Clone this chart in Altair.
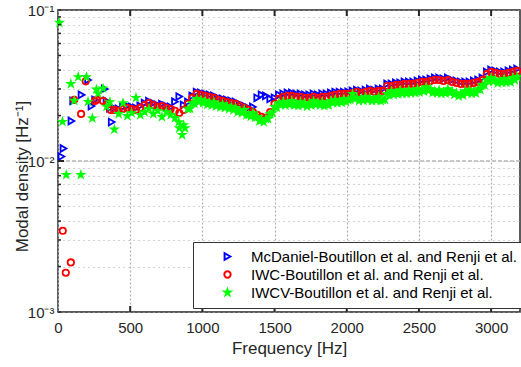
import altair as alt
import pandas as pd

names = [
    "McDaniel-Boutillon et al. and Renji et al.",
    "IWC-Boutillon et al. and Renji et al.",
    "IWCV-Boutillon et al. and Renji et al.",
]

band_freq = [
    390, 420, 450, 480, 510, 540, 570, 600, 630, 660,
    690, 720, 750, 780, 810, 840, 870, 900, 930, 960,
    990, 1020, 1050, 1080, 1110, 1140, 1170, 1200, 1230, 1260,
    1290, 1320, 1350, 1380, 1410, 1440, 1470, 1500, 1530, 1560,
    1590, 1620, 1650, 1680, 1710, 1740, 1770, 1800, 1830, 1860,
    1890, 1920, 1950, 1980, 2010, 2040, 2070, 2100, 2130, 2160,
    2190, 2220, 2250, 2280, 2310, 2340, 2370, 2400, 2430, 2460,
    2490, 2520, 2550, 2580, 2610, 2640, 2670, 2700, 2730, 2760,
    2790, 2820, 2850, 2880, 2910, 2940, 2970, 3000, 3030, 3060,
    3090, 3120, 3150, 3180,
]

mcd_low_freq = [24, 38, 93, 105, 163, 208, 232, 257, 324, 336, 360, 372]
mcd_low = [0.0107, 0.0121, 0.0184, 0.0250, 0.0274, 0.0344, 0.0231, 0.0254, 0.0300, 0.0250, 0.0224, 0.0181]
mcd_band = [
    0.0224, 0.0221, 0.0228, 0.0232, 0.0228, 0.0225, 0.0232, 0.0242, 0.0249, 0.0242,
    0.0235, 0.0238, 0.0232, 0.0228, 0.0247, 0.0267, 0.0235, 0.0246, 0.0270, 0.0286,
    0.0282, 0.0278, 0.0274, 0.0270, 0.0262, 0.0258, 0.0254, 0.0250, 0.0246, 0.0238,
    0.0232, 0.0225, 0.0228, 0.0262, 0.0274, 0.0270, 0.0258, 0.0262, 0.0274, 0.0278,
    0.0282, 0.0282, 0.0278, 0.0278, 0.0274, 0.0274, 0.0278, 0.0274, 0.0278, 0.0278,
    0.0282, 0.0286, 0.0286, 0.0286, 0.0287, 0.0291, 0.0295, 0.0291, 0.0295, 0.0300,
    0.0295, 0.0300, 0.0300, 0.0324, 0.0324, 0.0329, 0.0329, 0.0334, 0.0334, 0.0334,
    0.0339, 0.0344, 0.0344, 0.0350, 0.0355, 0.0355, 0.0350, 0.0355, 0.0344, 0.0339,
    0.0334, 0.0334, 0.0334, 0.0339, 0.0344, 0.0355, 0.0389, 0.0401, 0.0395, 0.0389,
    0.0389, 0.0395, 0.0401, 0.0407,
]

iwc_low_freq = [33, 54, 89, 112, 160, 192, 255, 270, 312, 340, 365]
iwc_low = [0.00345, 0.00182, 0.00213, 0.0254, 0.0205, 0.0337, 0.0250, 0.0254, 0.0250, 0.0239, 0.0218]
iwc_band = [
    0.0218, 0.0215, 0.0221, 0.0225, 0.0221, 0.0218, 0.0225, 0.0235, 0.0242, 0.0235,
    0.0228, 0.0231, 0.0225, 0.0221, 0.0215, 0.0208, 0.0218, 0.0239, 0.0262, 0.0278,
    0.0274, 0.0270, 0.0266, 0.0262, 0.0254, 0.0250, 0.0246, 0.0242, 0.0239, 0.0231,
    0.0225, 0.0218, 0.0211, 0.0202, 0.0196, 0.0193, 0.0211, 0.0239, 0.0258, 0.0266,
    0.0270, 0.0270, 0.0266, 0.0266, 0.0262, 0.0262, 0.0266, 0.0262, 0.0266, 0.0266,
    0.0270, 0.0274, 0.0278, 0.0278, 0.0278, 0.0282, 0.0287, 0.0282, 0.0287, 0.0291,
    0.0287, 0.0291, 0.0291, 0.0314, 0.0314, 0.0319, 0.0319, 0.0324, 0.0324, 0.0324,
    0.0329, 0.0334, 0.0334, 0.0339, 0.0344, 0.0344, 0.0339, 0.0344, 0.0334, 0.0329,
    0.0324, 0.0324, 0.0324, 0.0329, 0.0334, 0.0344, 0.0377, 0.0389, 0.0383, 0.0377,
    0.0377, 0.0383, 0.0389, 0.0395,
]

iwcv_low_freq = [10, 31, 57, 89, 112, 140, 158, 197, 208, 238, 266, 278, 312, 336, 360, 836, 860, 880]
iwcv_low = [0.0824, 0.0182, 0.0081, 0.0324, 0.0251, 0.0360, 0.0081, 0.0360, 0.0247, 0.0192,
            0.0298, 0.0280, 0.0303, 0.0229, 0.0246, 0.0181, 0.0149, 0.0165]
iwcv_band = [
    0.0162, 0.0205, 0.0242, 0.0199, 0.0208, 0.0262, 0.0202, 0.0211, 0.0221, 0.0205,
    0.0215, 0.0196, 0.0211, 0.0202, 0.0193, 0.0165, 0.0173, 0.0221, 0.0242, 0.0258,
    0.0254, 0.0250, 0.0242, 0.0246, 0.0235, 0.0238, 0.0231, 0.0228, 0.0225, 0.0215,
    0.0218, 0.0202, 0.0208, 0.0196, 0.0187, 0.0190, 0.0205, 0.0228, 0.0242, 0.0246,
    0.0242, 0.0250, 0.0238, 0.0246, 0.0242, 0.0238, 0.0250, 0.0242, 0.0246, 0.0238,
    0.0250, 0.0254, 0.0250, 0.0258, 0.0254, 0.0278, 0.0262, 0.0258, 0.0266, 0.0262,
    0.0258, 0.0266, 0.0254, 0.0278, 0.0290, 0.0282, 0.0295, 0.0286, 0.0295, 0.0290,
    0.0300, 0.0295, 0.0309, 0.0300, 0.0290, 0.0295, 0.0286, 0.0300, 0.0290, 0.0282,
    0.0278, 0.0290, 0.0295, 0.0286, 0.0300, 0.0319, 0.0344, 0.0355, 0.0344, 0.0339,
    0.0350, 0.0339, 0.0355, 0.0360,
]
iwcv_band2_freq = [
    915, 945, 975, 1005, 1035, 1065, 1095, 1125, 1155, 1185,
    1215, 1245, 1275, 1305, 1335, 1365, 1395, 1425, 1455, 1485,
    1515, 1545, 1575, 1605, 1635, 1665, 1695, 1725, 1755, 1785,
    1815, 1845, 1875, 1905, 1935, 1965, 1995, 2025, 2055, 2085,
    2115, 2145, 2175, 2205, 2235, 2265, 2295, 2325, 2355, 2385,
    2415, 2445, 2475, 2505, 2535, 2565, 2595, 2625, 2655, 2685,
    2715, 2745, 2775, 2805, 2835, 2865, 2895, 2925, 2955, 2985,
    3015, 3045, 3075, 3105, 3135, 3165,
]
iwcv_band2 = [
    0.0222, 0.0240, 0.0246, 0.0242, 0.0236, 0.0234, 0.0231, 0.0227, 0.0225, 0.0221,
    0.0218, 0.0211, 0.0208, 0.0202, 0.0197, 0.0194, 0.0184, 0.0181, 0.0190, 0.0208,
    0.0226, 0.0234, 0.0234, 0.0236, 0.0234, 0.0232, 0.0234, 0.0230, 0.0234, 0.0236,
    0.0234, 0.0232, 0.0234, 0.0242, 0.0242, 0.0244, 0.0246, 0.0255, 0.0259, 0.0250,
    0.0252, 0.0253, 0.0250, 0.0252, 0.0250, 0.0255, 0.0273, 0.0275, 0.0277, 0.0279,
    0.0279, 0.0281, 0.0283, 0.0285, 0.0290, 0.0292, 0.0283, 0.0281, 0.0279, 0.0281,
    0.0283, 0.0275, 0.0269, 0.0273, 0.0281, 0.0279, 0.0281, 0.0297, 0.0318, 0.0336,
    0.0336, 0.0328, 0.0331, 0.0331, 0.0333, 0.0343,
]

x_ticks = [0, 500, 1000, 1500, 2000, 2500, 3000]
y_ticks = [0.001, 0.002, 0.003, 0.004, 0.005, 0.006, 0.007, 0.008, 0.009,
           0.01, 0.02, 0.03, 0.04, 0.05, 0.06, 0.07, 0.08, 0.09, 0.1]

rows = []
for k, (fl, vl) in enumerate([
    (mcd_low_freq + band_freq, mcd_low + mcd_band),
    (iwc_low_freq + band_freq, iwc_low + iwc_band),
    (iwcv_low_freq + band_freq + iwcv_band2_freq, iwcv_low + iwcv_band + iwcv_band2),
]):
    for f, v in zip(fl, vl):
        rows.append({"freq": f, "density": v, "series": names[k], "k": k})
df = pd.DataFrame(rows)

star = ("M0,-1L0.2245,-0.309L0.951,-0.309L0.363,0.118L0.588,0.809L0,0.382"
        "L-0.588,0.809L-0.363,0.118L-0.951,-0.309L-0.2245,-0.309Z")

FONT = "Liberation Sans"
TXT = "#262626"
xscale = alt.Scale(domain=[0, 3200], nice=False, zero=False)
yscale = alt.Scale(type="log", domain=[0.001, 0.1], nice=False)

x_axis = alt.Axis(
    values=x_ticks, format="d", title="Frequency [Hz]", grid=True, gridDash=[2, 2],
    gridColor="#b0b0b0", gridWidth=1.2, ticks=False, domain=False,
    labelPadding=8, labelFontSize=15, labelFont=FONT, labelColor=TXT,
    labelFlush=False, titleFontSize=17, titleFont=FONT, titleColor=TXT,
    titleFontWeight="normal", titleY=28, titleBaseline="top")
y_axis = alt.Axis(
    values=y_ticks,
    labelExpr="datum.value == 0.1 ? '10⁻¹' : (datum.value == 0.01 ? '10⁻²' : (datum.value == 0.001 ? '10⁻³' : ''))",
    title="Modal density [Hz⁻¹]", grid=True, gridDash=[1, 4],
    gridColor="#a8a8a8", ticks=False, domain=False, labelOverlap=False,
    labelFlush=False, labelPadding=4, labelFontSize=15, labelFont=FONT,
    labelColor=TXT, titleFontSize=17, titleFont=FONT, titleColor=TXT,
    titleFontWeight="normal", titleX=-36, titleY=166, titleAngle=270,
    titleAlign="center", titleBaseline="middle")

leg = alt.Legend(
    title=None, orient="none", legendX=135, legendY=232, direction="vertical",
    strokeColor="#333333", fillColor="white", padding=7, symbolOffset=20,
    labelOffset=16, rowPadding=2, labelFontSize=15, labelFont=FONT,
    labelColor="#000000", labelLimit=400, symbolStrokeWidth=2,
)

points = alt.Chart(df).mark_point(opacity=1, strokeWidth=1.8).encode(
    x=alt.X("freq:Q", scale=xscale, axis=x_axis),
    y=alt.Y("density:Q", scale=yscale, axis=y_axis),
    stroke=alt.Stroke("series:N", scale=alt.Scale(domain=names, range=["#0000ff", "#ff0000", "#00ff00"]), legend=leg),
    fill=alt.Fill("series:N", scale=alt.Scale(domain=names, range=["transparent", "transparent", "#00ff00"]), legend=leg),
    shape=alt.Shape("series:N", scale=alt.Scale(domain=names, range=["triangle-right", "circle", star]), legend=leg),
    size=alt.Size("series:N", scale=alt.Scale(domain=names, range=[45, 36, 110]), legend=leg),
    order=alt.Order("k:Q"),
)

dec_line = alt.Chart(pd.DataFrame({"density": [0.01]})).mark_rule(
    color="#b8b8b8", strokeWidth=1.5, strokeDash=[4, 2]).encode(
    y=alt.Y("density:Q", scale=yscale, axis=y_axis))

xt = pd.DataFrame({"freq": x_ticks[1:]})
xtick_bot = alt.Chart(xt).mark_rule(color=TXT, strokeWidth=2).encode(
    x=alt.X("freq:Q", scale=xscale, axis=x_axis), y=alt.value(302), y2=alt.value(296))
xtick_top = alt.Chart(xt).mark_rule(color=TXT, strokeWidth=2).encode(
    x=alt.X("freq:Q", scale=xscale, axis=x_axis), y=alt.value(0), y2=alt.value(6))

yt = pd.DataFrame({"density": y_ticks})
ytick_left = alt.Chart(yt).mark_rule(color=TXT, strokeWidth=1.5).encode(
    y=alt.Y("density:Q", scale=yscale, axis=y_axis), x=alt.value(0), x2=alt.value(3))
ydt = pd.DataFrame({"density": [0.01]})
ytick_left_major = alt.Chart(ydt).mark_rule(color=TXT, strokeWidth=2).encode(
    y=alt.Y("density:Q", scale=yscale, axis=y_axis), x=alt.value(0), x2=alt.value(6))

chart = alt.layer(
    dec_line, points, xtick_bot, xtick_top, ytick_left, ytick_left_major
).properties(
    width=462, height=302,
    padding={"left": 58, "top": 10, "right": 1, "bottom": 55},
    autosize=alt.AutoSizeParams(type="none"),
    background="white",
).configure_view(stroke=TXT, strokeWidth=1.5)

chart.save("out.html", embed_options={"renderer": "svg", "actions": False})
